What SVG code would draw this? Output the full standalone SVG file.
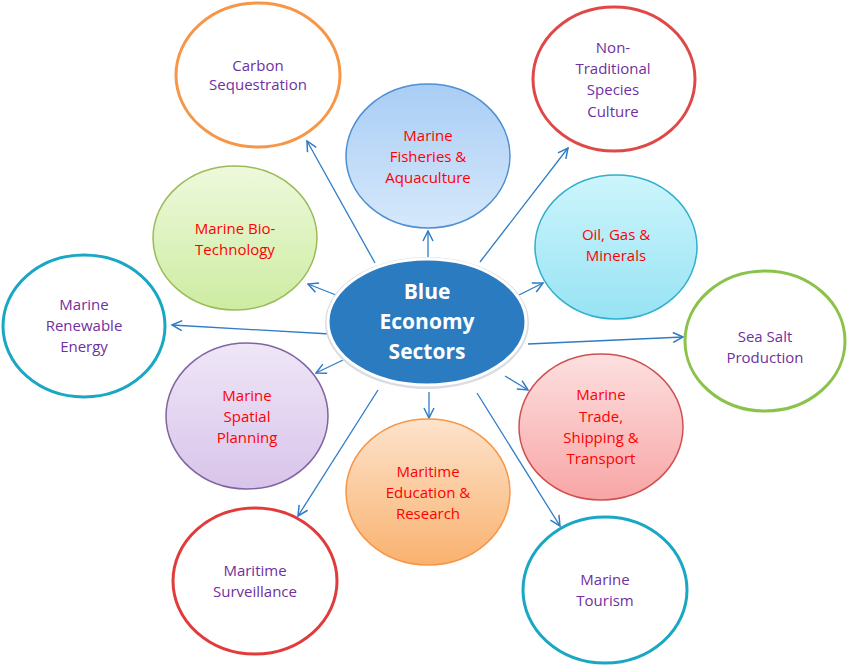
<svg xmlns="http://www.w3.org/2000/svg" width="850" height="666" viewBox="0 0 850 666">
<defs>
<style>
.t{font-family:"Open Sans","Liberation Sans",sans-serif;font-size:15px;text-anchor:middle}
.in{fill:#ff0000}
.out{fill:#7030a0}
.o{fill:#ffffff;stroke-width:3}
.i{stroke-width:1.5}
.c{font-family:"Open Sans","Liberation Sans",sans-serif;font-size:21px;font-weight:bold;fill:#ffffff;text-anchor:middle}
.a{stroke:#2e7bc6;stroke-width:1.3;fill:none;marker-end:url(#ah)}
</style>
<marker id="ah" viewBox="0 0 12 12" refX="11" refY="6" markerWidth="12" markerHeight="12" markerUnits="userSpaceOnUse" orient="auto">
<path d="M1,1 L11,6 L1,11" fill="none" stroke="#2e7bc6" stroke-width="1.5"/>
</marker>
<linearGradient id="gB" x1="0" y1="0" x2="0" y2="1"><stop offset="0" stop-color="#a9cdf5"/><stop offset="1" stop-color="#d6e8fb"/></linearGradient>
<linearGradient id="gG" x1="0" y1="0" x2="0" y2="1"><stop offset="0" stop-color="#eef9dc"/><stop offset="1" stop-color="#cdeca2"/></linearGradient>
<linearGradient id="gC" x1="0" y1="0" x2="0" y2="1"><stop offset="0" stop-color="#cdf5fc"/><stop offset="1" stop-color="#97e3f4"/></linearGradient>
<linearGradient id="gP" x1="0" y1="0" x2="0" y2="1"><stop offset="0" stop-color="#efe6f7"/><stop offset="1" stop-color="#d8c4ea"/></linearGradient>
<linearGradient id="gO" x1="0" y1="0" x2="0" y2="1"><stop offset="0" stop-color="#fde3cc"/><stop offset="1" stop-color="#f9b26f"/></linearGradient>
<linearGradient id="gR" x1="0" y1="0" x2="0" y2="1"><stop offset="0" stop-color="#fde0e0"/><stop offset="1" stop-color="#f8a5a5"/></linearGradient>
</defs>
<rect width="850" height="666" fill="#ffffff"/>

<g id="connectors">
<line class="a" x1="375" y1="263" x2="307" y2="141"/>
<line class="a" x1="428" y1="257" x2="428" y2="231"/>
<line class="a" x1="480" y1="262" x2="568" y2="148"/>
<line class="a" x1="341" y1="297" x2="308" y2="284"/>
<line class="a" x1="519" y1="295" x2="543" y2="283"/>
<line class="a" x1="330" y1="334" x2="172" y2="325"/>
<line class="a" x1="528" y1="344" x2="683" y2="337"/>
<line class="a" x1="343" y1="360" x2="316" y2="373"/>
<line class="a" x1="429" y1="392" x2="429" y2="418"/>
<line class="a" x1="505" y1="376" x2="528" y2="390"/>
<line class="a" x1="378" y1="390" x2="298" y2="516"/>
<line class="a" x1="477" y1="393" x2="560" y2="526"/>
</g>

<g id="carbon">
<ellipse class="o" cx="258" cy="75" rx="82" ry="72" stroke="#f79646"/>
<text class="t out" x="258" y="71">Carbon</text>
<text class="t out" x="258" y="90">Sequestration</text>
</g>
<g id="nontraditional">
<ellipse class="o" cx="614" cy="79" rx="81" ry="72" stroke="#e04848"/>
<text class="t out" x="613" y="53">Non-</text>
<text class="t out" x="613" y="74">Traditional</text>
<text class="t out" x="613" y="95">Species</text>
<text class="t out" x="613" y="117">Culture</text>
</g>
<g id="renewable">
<ellipse class="o" cx="84" cy="326" rx="81" ry="71" stroke="#19a7c4"/>
<text class="t out" x="84" y="310">Marine</text>
<text class="t out" x="84" y="331">Renewable</text>
<text class="t out" x="84" y="352">Energy</text>
</g>
<g id="seasalt">
<ellipse class="o" cx="765" cy="341" rx="80" ry="70" stroke="#8bc34a"/>
<text class="t out" x="765" y="342">Sea Salt</text>
<text class="t out" x="765" y="363">Production</text>
</g>
<g id="surveillance">
<ellipse class="o" cx="255" cy="581" rx="82" ry="73" stroke="#e03c3c"/>
<text class="t out" x="255" y="576">Maritime</text>
<text class="t out" x="255" y="597">Surveillance</text>
</g>
<g id="tourism">
<ellipse class="o" cx="605" cy="590" rx="82" ry="73" stroke="#19a7c4"/>
<text class="t out" x="605" y="585">Marine</text>
<text class="t out" x="605" y="606">Tourism</text>
</g>

<g id="fisheries">
<ellipse class="i" cx="428" cy="156" rx="82" ry="72" fill="url(#gB)" stroke="#4f8fd0"/>
<text class="t in" x="428" y="141">Marine</text>
<text class="t in" x="428" y="162">Fisheries &amp;</text>
<text class="t in" x="428" y="183">Aquaculture</text>
</g>
<g id="biotech">
<ellipse class="i" cx="235" cy="238" rx="82" ry="72" fill="url(#gG)" stroke="#9bbb59"/>
<text class="t in" x="235" y="234">Marine Bio-</text>
<text class="t in" x="235" y="255">Technology</text>
</g>
<g id="oilgas">
<ellipse class="i" cx="616" cy="247" rx="81" ry="72" fill="url(#gC)" stroke="#2fb0cc"/>
<text class="t in" x="616" y="240">Oil, Gas &amp;</text>
<text class="t in" x="616" y="261">Minerals</text>
</g>
<g id="spatial">
<ellipse class="i" cx="247" cy="416" rx="81" ry="73" fill="url(#gP)" stroke="#8064a2"/>
<text class="t in" x="247" y="401">Marine</text>
<text class="t in" x="247" y="422">Spatial</text>
<text class="t in" x="247" y="443">Planning</text>
</g>
<g id="education">
<ellipse class="i" cx="428" cy="492" rx="82" ry="73" fill="url(#gO)" stroke="#f79646"/>
<text class="t in" x="428" y="477">Maritime</text>
<text class="t in" x="428" y="498">Education &amp;</text>
<text class="t in" x="428" y="519">Research</text>
</g>
<g id="trade">
<ellipse class="i" cx="601" cy="427" rx="82" ry="73" fill="url(#gR)" stroke="#d05050"/>
<text class="t in" x="601" y="400">Marine</text>
<text class="t in" x="601" y="422">Trade,</text>
<text class="t in" x="601" y="443">Shipping &amp;</text>
<text class="t in" x="601" y="464">Transport</text>
</g>

<g id="center">
<ellipse cx="427" cy="323" rx="102" ry="66" fill="#d8dde3"/>
<ellipse cx="427" cy="322" rx="99" ry="63" fill="#2a7bc0" stroke="#ffffff" stroke-width="3"/>
<text class="c" x="427" y="299">Blue</text>
<text class="c" x="427" y="329">Economy</text>
<text class="c" x="427" y="359">Sectors</text>
</g>
</svg>
